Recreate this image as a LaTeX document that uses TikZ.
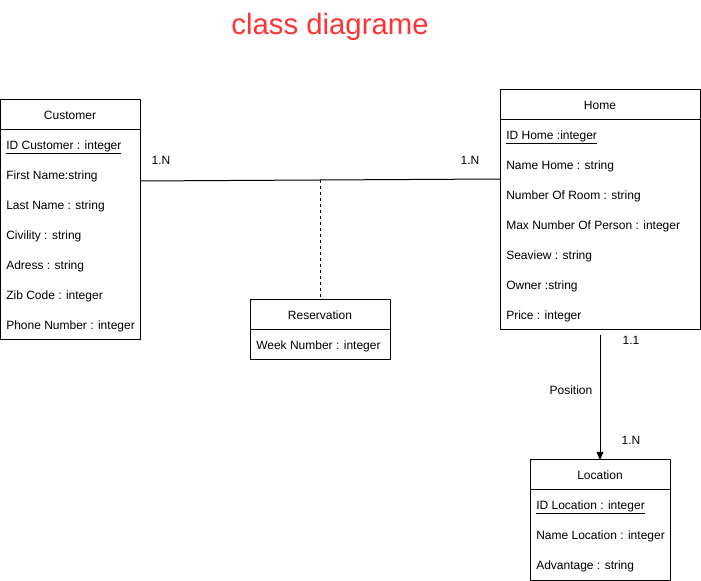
\documentclass[tikz,border=0pt]{standalone}
\usepackage{fontspec}
\setmainfont{Liberation Sans}
\usetikzlibrary{arrows.meta,positioning}
\definecolor{titlered}{HTML}{FF3333}

\begin{document}
\begin{tikzpicture}[
   x=0.75pt, y=-0.75pt,
   font=\fontsize{9}{11}\selectfont,
   hdr/.style={draw, line width=0.75pt, outer sep=0pt, inner sep=0pt,
      minimum height=22.5pt},
   body/.style={draw, line width=0.75pt, outer sep=0pt, inner sep=0pt},
   attr/.style={anchor=west, inner sep=0pt, text height=6.5pt,
      text depth=1.8pt},
   lab/.style={inner sep=0pt},
   link/.style={line width=0.75pt},
   arrow/.style={-{Triangle[length=6pt, width=5pt]}, line width=0.75pt}
]
\useasboundingbox (0,0) rectangle (701,581);

\node[font=\fontsize{22}{26}\selectfont, text=titlered] (title) at (330,27)
   {class diagrame};

% Customer
\node[hdr, minimum width=105pt] (cust) at (70,115) {Customer};
\node[body, minimum width=105pt, minimum height=157.5pt, below=0pt of cust]
   (custbox) {};
\node[attr] (cust1) at (6,146) {\underline{ID Customer : integer}};
\node[attr] (cust2) at (6,176) {First Name:string};
\node[attr] (cust3) at (6,206) {Last Name : string};
\node[attr] (cust4) at (6,236) {Civility : string};
\node[attr] (cust5) at (6,266) {Adress : string};
\node[attr] (cust6) at (6,296) {Zib Code : integer};
\node[attr] (cust7) at (6,326) {Phone Number : integer};

% Home
\node[hdr, minimum width=150pt] (home) at (600,105) {Home};
\node[body, minimum width=150pt, minimum height=157.5pt, below=0pt of home]
   (homebox) {};
\node[attr] (home1) at (506,136) {\underline{ID Home :integer}};
\node[attr] (home2) at (506,166) {Name Home : string};
\node[attr] (home3) at (506,196) {Number Of Room : string};
\node[attr] (home4) at (506,226) {Max Number Of Person : integer};
\node[attr] (home5) at (506,256) {Seaview : string};
\node[attr] (home6) at (506,286) {Owner :string};
\node[attr] (home7) at (506,316) {Price : integer};

% Reservation
\node[hdr, minimum width=105pt] (resv) at (320,315) {Reservation};
\node[body, minimum width=105pt, minimum height=22.5pt, below=0pt of resv]
   (resvbox) {};
\node[attr] (resv1) at (256,346) {Week Number : integer};

% Location
\node[hdr, minimum width=105pt] (loc) at (600,475) {Location};
\node[body, minimum width=105pt, minimum height=67.5pt, below=0pt of loc]
   (locbox) {};
\node[attr] (loc1) at (536,506) {\underline{ID Location : integer}};
\node[attr] (loc2) at (536,536) {Name Location : integer};
\node[attr] (loc3) at (536,566) {Advantage : string};

% links
\draw[link] (custbox.east |- 0,181) -- coordinate[pos=0.5] (mid)
   (homebox.west |- 0,179);
\draw[link, dash pattern=on 2.25pt off 2.25pt] (mid) -- (resv.north);
\draw[arrow] ([yshift=-3.75pt]homebox.south) -- (loc.north);

\node[lab] (card1) at (161,160) {1.N};
\node[lab] (card2) at (470,160) {1.N};
\node[lab] (posn) at (571,390) {Position};
\node[lab] (card3) at (631,340) {1.1};
\node[lab] (card4) at (631,440) {1.N};
\end{tikzpicture}
\end{document}
